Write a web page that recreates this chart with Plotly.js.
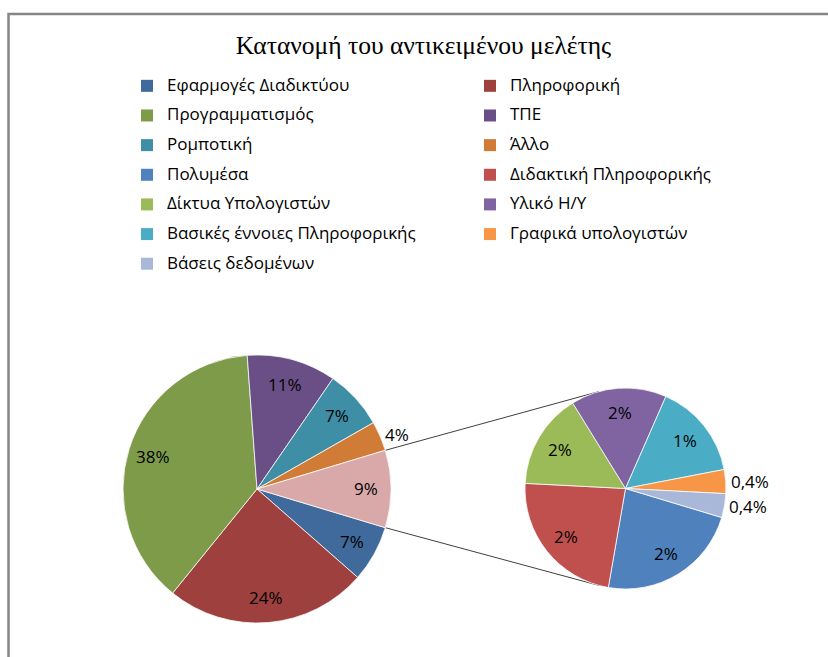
<!DOCTYPE html>
<html>
<head>
<meta charset="utf-8">
<script src="https://cdn.plot.ly/plotly-3.0.1.min.js"></script>
<style>
  html, body { margin: 0; padding: 0; background: #ffffff; }
  #chart { width: 828px; height: 657px; }
</style>
</head>
<body>
<div id="chart"></div>
<script>
// ---- Data ----
const mainLabels = ['Εφαρμογές Διαδικτύου', 'Πληροφορική', 'Προγραμματισμός', 'ΤΠΕ', 'Ρομποτική', 'Άλλο'];
const mainValues = [19, 68, 106, 30, 20, 10];
const mainText   = ['7%', '24%', '38%', '11%', '7%', '4%'];
const mainColors = ['#3F6A9B', '#9E413E', '#7E9B4A', '#6A4F87', '#3E8FA5', '#D07C36'];

const secLabels = ['Πολυμέσα', 'Διδακτική Πληροφορικής', 'Δίκτυα Υπολογιστών', 'Υλικό Η/Υ',
                   'Βασικές έννοιες Πληροφορικής', 'Γραφικά υπολογιστών', 'Βάσεις δεδομένων'];
const secValues = [6, 6, 4, 4, 4, 1, 1];
const secText   = ['2%', '2%', '2%', '2%', '1%', '0,4%', '0,4%'];
const secColors = ['#4F81BD', '#C0504D', '#9BBB59', '#8064A2', '#4BACC6', '#F79646', '#A9B8D8'];

const otherLabel = 'Λοιπά';
const otherText  = '9%';
const otherColor = '#D9A9A9';

const chartTitle = 'Κατανομή του αντικειμένου μελέτης';

// ---- Layout geometry ----
const W = 828, H = 657;
const mainC = { x: 257, y: 489, r: 134 };
const secC  = { x: 625.5, y: 488.5, r: 100.5 };
function dom(c) {
  return { x: [(c.x - c.r) / W, (c.x + c.r) / W], y: [(H - c.y - c.r) / H, (H - c.y + c.r) / H] };
}
const sum = a => a.reduce((s, v) => s + v, 0);
const otherSum = sum(secValues);
const total = sum(mainValues) + otherSum;
const otherDeg = otherSum / total * 360;
const rot = 90 + otherDeg / 2;           // "other" slice centred at 3 o'clock
const deg = Math.PI / 180;

function pt(c, a, f) { const r = c.r * (f === undefined ? 1 : f); return { x: c.x + r * Math.sin(a * deg), y: c.y - r * Math.cos(a * deg) }; }
function tangent(p, c, upper) {
  const dx = p.x - c.x, dy = p.y - c.y;
  const d = Math.hypot(dx, dy);
  const phi = Math.atan2(dx, -dy) / deg;
  const beta = Math.acos(c.r / d) / deg;
  return pt(c, upper ? phi + beta : phi - beta);
}
const p1 = pt(mainC, rot - otherDeg), p2 = pt(mainC, rot);
const t1 = tangent(p1, secC, true), t2 = tangent(p2, secC, false);
const px = v => v / W, py = v => 1 - v / H;

const textFont = { family: 'Open Sans, sans-serif', size: 17, color: '#000000' };

// data labels placed at slice mid-angles (Excel "best fit" style)
function sliceLabels(vals, texts, c, rotation, inFrac, smallLimit) {
  const tot = sum(vals);
  let acc = 0;
  const out = [];
  vals.forEach((v, i) => {
    const mid = rotation + (acc + v / 2) / tot * 360;
    acc += v;
    const outside = v / tot < smallLimit;
    const p = outside ? pt(c, mid, 1 + 3 / c.r) : pt(c, mid, inFrac);
    out.push({
      xref: 'paper', yref: 'paper', x: px(p.x), y: py(p.y),
      text: texts[i], showarrow: false, font: textFont,
      xanchor: outside ? 'left' : 'center', yanchor: 'middle'
    });
  });
  return out;
}
const mainAnn = sliceLabels(mainValues.concat([otherSum]), mainText.concat([otherText]), mainC, rot, 0.81, 0.05);
const secAnn  = sliceLabels(secValues, secText, secC, rot, 0.76, 0.05);

// legend carrier (tiny pie hidden beneath the main pie)
const legendTrace = {
  type: 'pie',
  labels: mainLabels.concat(secLabels).map(l => '<span style="font-size:17px;baseline-shift:3px">' + l + '</span>'),
  values: mainValues.concat(secValues),
  marker: { colors: mainColors.concat(secColors), line: { width: 0 } },
  sort: false, direction: 'clockwise', textinfo: 'none', hoverinfo: 'skip',
  domain: { x: [mainC.x / W - 0.0004, mainC.x / W + 0.0004], y: [(H - mainC.y) / H - 0.0004, (H - mainC.y) / H + 0.0004] },
  showlegend: true
};

const mainTrace = {
  type: 'pie',
  labels: mainLabels.concat([otherLabel]),
  values: mainValues.concat([otherSum]),
  textinfo: 'none',
  marker: { colors: mainColors.concat([otherColor]), line: { color: '#ffffff', width: 0.75 } },
  sort: false, direction: 'clockwise', rotation: rot,
  domain: dom(mainC), showlegend: false, hoverinfo: 'label+value'
};

const secTrace = {
  type: 'pie',
  labels: secLabels,
  values: secValues,
  textinfo: 'none',
  marker: { colors: secColors, line: { color: '#ffffff', width: 0.75 } },
  sort: false, direction: 'clockwise', rotation: rot,
  domain: dom(secC), showlegend: false, hoverinfo: 'label+value'
};

const layout = {
  width: W, height: H,
  margin: { l: 0, r: 0, t: 0, b: 0, autoexpand: false },
  paper_bgcolor: '#ffffff', plot_bgcolor: '#ffffff',
  title: {
    text: chartTitle,
    font: { family: 'Liberation Serif, serif', size: 25.5, color: '#000000' },
    x: 423.5 / W, xanchor: 'center', xref: 'paper',
    y: 1 - 45 / H, yanchor: 'middle', yref: 'container'
  },
  showlegend: true,
  legend: {
    orientation: 'h', x: 127 / W, xanchor: 'left', y: 1 - 66 / H, yanchor: 'top',
    entrywidth: 298, entrywidthmode: 'pixels',
    font: { family: 'Open Sans, sans-serif', size: 20.5, color: '#000000' },
    bgcolor: 'rgba(0,0,0,0)', borderwidth: 0, itemclick: false, itemdoubleclick: false
  },
  annotations: mainAnn.concat(secAnn),
  shapes: [
    { type: 'rect', xref: 'paper', yref: 'paper', x0: px(8.5), x1: 1.1, y0: py(14), y1: -0.1,
      line: { color: '#868686', width: 2.5 }, fillcolor: 'rgba(0,0,0,0)', layer: 'below' },
    { type: 'line', xref: 'paper', yref: 'paper', x0: px(p1.x), y0: py(p1.y), x1: px(t1.x), y1: py(t1.y),
      line: { color: '#404040', width: 1 }, layer: 'below' },
    { type: 'line', xref: 'paper', yref: 'paper', x0: px(p2.x), y0: py(p2.y), x1: px(t2.x), y1: py(t2.y),
      line: { color: '#404040', width: 1 }, layer: 'below' }
  ]
};

Plotly.newPlot('chart', [legendTrace, mainTrace, secTrace], layout, { displayModeBar: false, staticPlot: true });
</script>
</body>
</html>
